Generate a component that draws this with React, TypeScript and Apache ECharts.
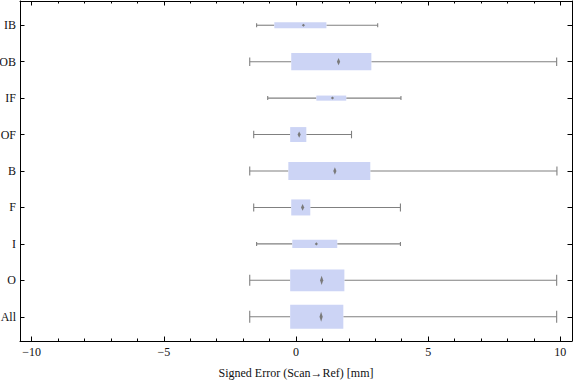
import React, { useEffect, useRef } from "react";
import * as echarts from "echarts";

// Categories, top to bottom
const categories = ["IB", "OB", "IF", "OF", "B", "F", "I", "O", "All"];
const whiskerLow = [-1.49, -1.75, -1.07, -1.6, -1.75, -1.6, -1.49, -1.75, -1.75];
const quartile1 = [-0.82, -0.18, 0.77, -0.22, -0.29, -0.18, -0.14, -0.22, -0.22];
const medians = [0.28, 1.61, 1.38, 0.12, 1.47, 0.25, 0.77, 0.97, 0.95];
const quartile3 = [1.15, 2.85, 1.9, 0.39, 2.81, 0.54, 1.56, 1.83, 1.79];
const whiskerHigh = [3.09, 9.86, 3.97, 2.1, 9.87, 3.95, 3.95, 9.86, 9.86];
// relative box thickness (fraction of category band)
const boxWeight = [0.16, 0.47, 0.14, 0.41, 0.49, 0.44, 0.22, 0.6, 0.66];

const majorX = [-10, -5, 0, 5, 10];
const minorX = [-9, -8, -7, -6, -4, -3, -2, -1, 1, 2, 3, 4, 6, 7, 8, 9];
const catPos = categories.map((_, i) => i + 1);

const FONT = "'Liberation Serif', 'Times New Roman', serif";

export default function App() {
  const ref = useRef<HTMLDivElement>(null);
  useEffect(() => {
    if (!ref.current) return;
    const chart = echarts.init(ref.current, undefined, { renderer: "svg" });
    const data = categories.map((_, i) => [
      i + 1,
      whiskerLow[i],
      quartile1[i],
      medians[i],
      quartile3[i],
      whiskerHigh[i],
      boxWeight[i],
    ]);
    const xMin = -10.44;
    const xMax = 10.44;
    const yMin = 0.335;
    const yMax = 9.665;
    const axisLine = { show: true, onZero: false, lineStyle: { color: "#000", width: 1 } };
    const noLine = { show: false, onZero: false };
    const fmtX = (v: number) => (v < 0 ? "\u2212" + Math.abs(v) : String(v));
    const option: any = {
      animation: false,
      backgroundColor: "#fff",
      grid: { left: 20, right: 4, top: 1, bottom: 40, containLabel: false, outerBoundsMode: "none" },
      xAxis: [
        {
          type: "value",
          min: xMin,
          max: xMax,
          position: "bottom",
          axisLine,
          splitLine: { show: false },
          axisTick: { show: true, inside: true, length: 4.5, customValues: majorX, lineStyle: { color: "#000" } },
          axisLabel: {
            show: true,
            customValues: majorX,
            formatter: fmtX,
            color: "#111",
            fontFamily: FONT,
            fontSize: 12,
            margin: 5,
          },
          name: "Signed Error (Scan\u2192Ref) [mm]",
          nameLocation: "middle",
          nameGap: 26,
          nameTextStyle: { color: "#111", fontFamily: FONT, fontSize: 12 },
        },
        {
          type: "value",
          min: xMin,
          max: xMax,
          position: "bottom",
          axisLine: noLine,
          splitLine: { show: false },
          axisTick: { show: true, inside: true, length: 2.5, customValues: minorX, lineStyle: { color: "#000" } },
          axisLabel: { show: false },
        },
        {
          type: "value",
          min: xMin,
          max: xMax,
          position: "top",
          axisLine,
          splitLine: { show: false },
          axisTick: { show: true, inside: true, length: 4.5, customValues: majorX, lineStyle: { color: "#000" } },
          axisLabel: { show: false },
        },
        {
          type: "value",
          min: xMin,
          max: xMax,
          position: "top",
          axisLine: noLine,
          splitLine: { show: false },
          axisTick: { show: true, inside: true, length: 2.5, customValues: minorX, lineStyle: { color: "#000" } },
          axisLabel: { show: false },
        },
      ],
      yAxis: [
        {
          type: "value",
          min: yMin,
          max: yMax,
          inverse: true,
          position: "left",
          axisLine,
          splitLine: { show: false },
          axisTick: { show: true, inside: true, length: 4.5, customValues: catPos, lineStyle: { color: "#000" } },
          axisLabel: {
            show: true,
            customValues: catPos,
            formatter: (v: number) => categories[Math.round(v) - 1] ?? "",
            color: "#111",
            fontFamily: FONT,
            fontSize: 12,
            margin: 4,
          },
        },
        {
          type: "value",
          min: yMin,
          max: yMax,
          inverse: true,
          position: "right",
          axisLine,
          splitLine: { show: false },
          axisTick: { show: true, inside: true, length: 4.5, customValues: catPos, lineStyle: { color: "#000" } },
          axisLabel: { show: false },
        },
      ],
      series: [
        {
          type: "custom",
          xAxisIndex: 0,
          yAxisIndex: 0,
          data,
          renderItem: (params: any, api: any) => {
            const yi = api.value(0);
            const lo = api.value(1);
            const q1 = api.value(2);
            const med = api.value(3);
            const q3 = api.value(4);
            const hi = api.value(5);
            const w = api.value(6);
            const [xLo, y] = api.coord([lo, yi]);
            const xQ1 = api.coord([q1, yi])[0];
            const xMed = api.coord([med, yi])[0];
            const xQ3 = api.coord([q3, yi])[0];
            const xHi = api.coord([hi, yi])[0];
            const band = api.size([0, 1])[1];
            const h = band * w;
            const cap = Math.max(4, h * 0.5);
            const dh = Math.max(3, h * 0.42);
            const lineStyle = { stroke: "#808080", lineWidth: 1.1 };
            return {
              type: "group",
              children: [
                { type: "line", shape: { x1: xLo, y1: y, x2: xQ1, y2: y }, style: lineStyle },
                { type: "line", shape: { x1: xQ3, y1: y, x2: xHi, y2: y }, style: lineStyle },
                { type: "line", shape: { x1: xLo, y1: y - cap / 2, x2: xLo, y2: y + cap / 2 }, style: lineStyle },
                { type: "line", shape: { x1: xHi, y1: y - cap / 2, x2: xHi, y2: y + cap / 2 }, style: lineStyle },
                {
                  type: "rect",
                  shape: { x: xQ1, y: y - h / 2, width: xQ3 - xQ1, height: h },
                  style: { fill: "#CCD4F5" },
                },
                {
                  type: "polygon",
                  shape: {
                    points: [
                      [xMed, y - dh / 2],
                      [xMed + 1.6, y],
                      [xMed, y + dh / 2],
                      [xMed - 1.6, y],
                    ],
                  },
                  style: { fill: "#7a7a7a" },
                },
              ],
            };
          },
        },
      ],
    };
    chart.setOption(option);
    return () => chart.dispose();
  }, []);
  return (
    <div
      ref={ref}
      style={{ position: "fixed", left: 0, top: 0, width: 576, height: 381 }}
    />
  );
}
